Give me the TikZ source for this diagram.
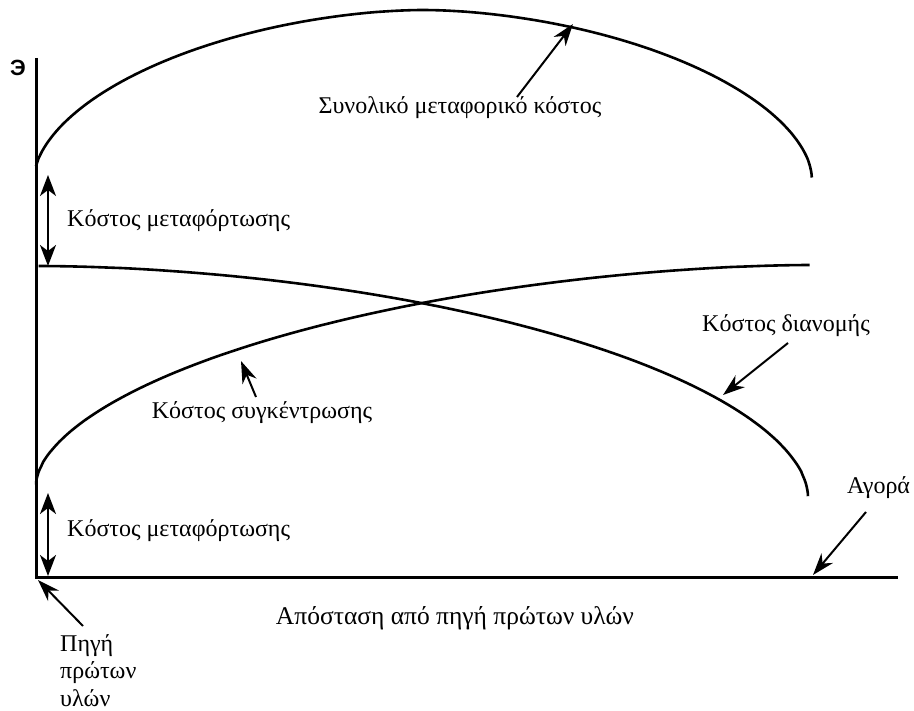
\documentclass[tikz,border=0pt]{standalone}
\usepackage{fontspec}
\setmainfont{Liberation Serif}
\newfontfamily\symfont{Liberation Sans}
\usetikzlibrary{arrows.meta}
\begin{document}
\begin{tikzpicture}[x=1pt,y=-1pt,
  curve/.style={line width=2.6pt},
  axis/.style={line width=3pt},
  dbl/.style={line width=2pt,{Stealth[length=21pt,width=16pt,inset=6pt]}-{Stealth[length=21pt,width=16pt,inset=6pt]}},
  ptr/.style={line width=2pt,-{Stealth[length=22pt,width=15pt,inset=7pt]}},
  lbl/.style={font=\fontsize{24}{29}\selectfont, inner sep=0pt},
  every node/.style={inner sep=0pt}]
\path[use as bounding box] (0,0) rectangle (914,711);
% axes
\coordinate (O) at (36,577);
\coordinate (ytop) at (36,58);
\coordinate (xend) at (898,577);
\draw[axis] (ytop) -- (O) -- (xend);
\node[font=\symfont\bfseries\fontsize{22}{26}\selectfont] (E) at (18,68) {Э};
% total cost
\draw[curve] plot[domain=0.3:174.8, samples=120, variable=\t]
  ({423+388.8*sign(cos(\t))*pow(abs(cos(\t)),1.111)},{178-168*pow(sin(\t),1.111)});
% distribution cost
\draw[curve] plot[domain=0.3:89.7, samples=90, variable=\t]
  ({36+772*pow(sin(\t),1.081)},{497-231*pow(cos(\t),1.081)});
% collection cost
\draw[curve] plot[domain=0.3:89.7, samples=90, variable=\t]
  ({812-776*pow(cos(\t),1.111)},{485-220*pow(sin(\t),1.111)});
% transfer cost arrows
\coordinate (d1a) at (48,175); \coordinate (d1b) at (48,266);
\draw[dbl] (d1a) -- (d1b);
\coordinate (d2a) at (48,493); \coordinate (d2b) at (48,576);
\draw[dbl] (d2a) -- (d2b);
\node[lbl, anchor=west] (mt1) at (67,221) {Κόστος μεταφόρτωσης};
\node[lbl, anchor=west] (mt2) at (67,531) {Κόστος μεταφόρτωσης};
% labels
\node[lbl] (tot) at (460,108) {Συνολικό μεταφορικό κόστος};
\coordinate (totT) at (517,97); \coordinate (totH) at (573,24);
\draw[ptr] (totT) -- (totH);
\node[lbl] (dist) at (786,326) {Κόστος διανομής};
\coordinate (distT) at (788,343); \coordinate (distH) at (723,395);
\draw[ptr] (distT) -- (distH);
\node[lbl] (coll) at (262,413) {Κόστος συγκέντρωσης};
\coordinate (collT) at (256,397); \coordinate (collH) at (241,361);
\draw[ptr] (collT) -- (collH);
\node[lbl, anchor=west] (agora) at (847,488) {Αγορά};
\coordinate (agT) at (866,512); \coordinate (agH) at (813,575);
\draw[ptr] (agT) -- (agH);
\node[lbl, font=\fontsize{25.5}{30}\selectfont] (xlab) at (455,618) {Απόσταση από πηγή πρώτων υλών};
\node[lbl, anchor=north west, align=left, font=\fontsize{24}{27.5}\selectfont] (src) at (60,634) {Πηγή\\πρώτων\\υλών};
\coordinate (srcT) at (83,626); \coordinate (srcH) at (38,580);
\draw[ptr] (srcT) -- (srcH);
\end{tikzpicture}
\end{document}
